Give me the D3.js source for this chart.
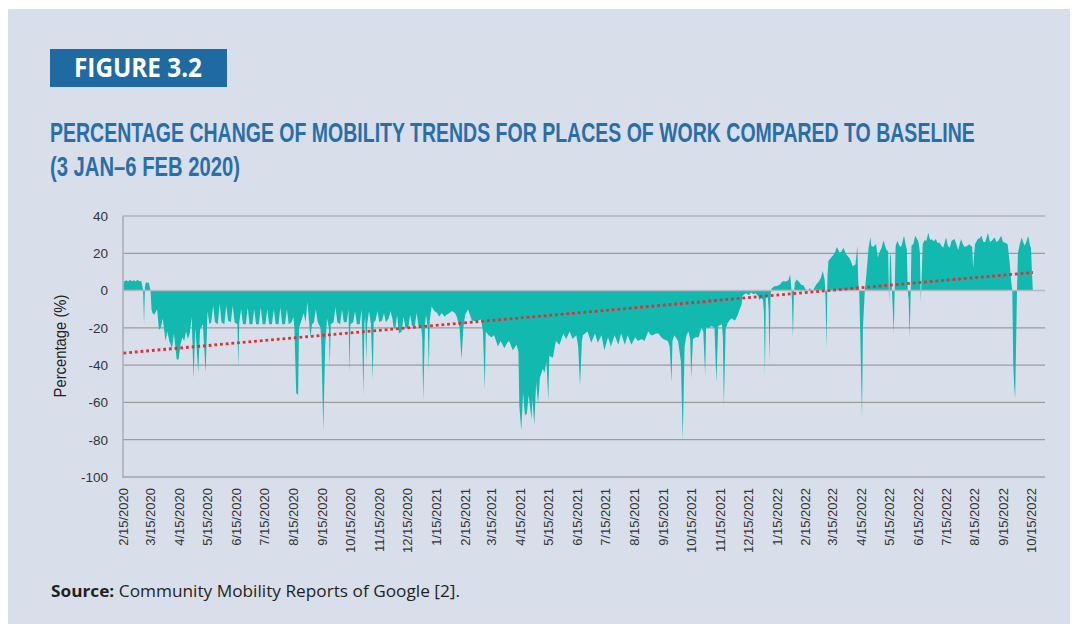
<!DOCTYPE html>
<html><head><meta charset="utf-8">
<script src="https://cdn.jsdelivr.net/npm/d3@7"></script>
<style>body{margin:0;background:#fff;} svg{display:block}</style>
</head><body>
<svg id="chart" width="1078" height="631"></svg>
<script>
// ---- data (days since 2/15/2020, % change vs baseline) ----
const startDate = "2/15/2020";
const axisEndDate = "10/29/2022";
const obs2020 = [
 [0,4],[1,5],[3,5.5],[5,4.8],[7,5.8],[9,5],[11,5.6],[13,4.8],[15,5.8],[17,5],
 [19,5.2],[20,3],[21,0],[22,-18],[23,2],[24,4.5],[26,4],[27,4.5],[28,2],[29,0],
 [30,-10],[31,-12],[33,-13],[36,-10],[38,-21],[40,-20],[42,-15],[45,-27],[47,-22],[49,-27],
 [52,-31],[54,-23],[57,-37],[59,-37],[61,-29],[63,-25],[65,-27],[67,-22],[69,-26],[71,-23],
 [73,-14],[75,-47],[77,-20],[80,-44],[82,-21],[85,-18],[88,-44],[90,-11],[92,-18],[94,-17],
 [96,-8],[98,-17],[101,-18],[103,-7],[105,-17],[108,-18],[110,-8],[112,-16],[115,-17],[117,-8],
 [119,-17],[122,-18],[123,-41],[124,-17],[126,-10],[128,-18],[131,-18],[133,-9],[135,-18],[138,-18],
 [140,-10],[142,-18],[145,-18],[147,-9],[149,-18],[152,-18],[154,-10],[156,-18],[159,-18],[161,-10],
 [163,-18],[166,-18],[168,-9],[170,-18],[173,-18],[175,-10],[177,-18],[180,-17],[182,-14],[183,-20],
 [185,-55],[187,-56],[188,-20],[190,-17],[193,-12],[195,-17],[197,-6],[199,-18],[200,-25],[202,-18],
 [204,-17],[206,-10],[208,-17],[211,-20],[212,-30],[214,-75],[216,-30],[218,-15],[220,-20],[221,-40],
 [222,-18],[225,-17],[227,-9],[229,-17],[232,-18],[234,-10],[236,-17],[239,-17],[241,-10],[242,-44],
 [243,-18],[246,-17],[248,-11],[250,-18],[253,-18],[255,-10],[257,-56],[258,-18],[259,-14],[260,-38],
 [261,-18],[263,-11],[265,-18],[267,-48],[268,-17],[270,-16],[272,-11],[274,-17],[277,-16],[279,-12],
 [281,-17],[284,-15],[286,-11],[288,-15],
 [289,-19],[291,-21],[293,-13],[295,-23],[298,-22],[300,-14],[302,-20],[305,-20],[307,-13],[309,-19],
 [312,-19],[314,-12],[316,-19],[319,-20],[320,-26]
];
const obs2021 = [
 [321,-59],[323,-18],[324,-13],[326,-20],[327,-44],[328,-16],[330,-8.5],[333,-11],[336,-12],[338,-14],
 [341,-12],[344,-14],[346,-13],[349,-12],[352,-11],[355,-12],[357,-14],[360,-20],[362,-37],[364,-20],
 [366,-13],[369,-10],[371,-13],[373,-16],[378,-16.5],[383,-15.5],[385,-22],[387,-53],[388,-22],[391,-24],
 [394,-25],[397,-24],[401,-30],[404,-27],[408,-31],[411,-28],[413,-27],[417,-32],[421,-29],[423,-33],
 [424,-62],[426,-75],[428,-55],[430,-67],[432,-66],[434,-56],[437,-69],[438,-58],[440,-72],[442,-49],
 [444,-61],[446,-47],[449,-42],[451,-44],[453,-38],[455,-59],[456,-35],[460,-36],[463,-27],[467,-29],
 [471,-23],[474,-26],[478,-22],[481,-26],[485,-24],[487,-30],[489,-51],[491,-27],[492,-24],[497,-22],
 [501,-28],[505,-23],[508,-28],[512,-24],[515,-32],[519,-25],[522,-30],[526,-24],[530,-29],[533,-23],
 [537,-29],[540,-24],[544,-29],[548,-25],[551,-27],[555,-26],[558,-27],[562,-22],[565,-24],[567,-24],
 [570,-23],[573,-23],[576,-25],[578,-26],[583,-27],[585,-30],[587,-49],[588,-27],[590,-24],[594,-27],
 [597,-38],[599,-80],[601,-30],[603,-24],[605,-22],[607,-26],[608,-47],[610,-26],[613,-25],[616,-25],
 [619,-20],[621,-22],[623,-45],[624,-20],[627,-20],[630,-19],[633,-20],[635,-49],[637,-19],[641,-18],
 [642,-25],[643,-62],[645,-20],[646,-19]
];
const obs2022 = [
 [647,-17.5],[649,-16],[651,-14.8],[653,-15.5],[655,-16],[658,-13],[660,-10],[662,-7.6],[663,-3],[665,-2],
 [667,-1.5],[670,-2.5],[672,-1],[675,-2],[677,-1.5],[680,-3],[681,-5],[683,-4],[685,-5],[686,-12],
 [687,-45],[688,-4],[690,-3],[691,-10],[692,-38],[693,-3],[694,1],[697,2.3],[700,2.5],[703,3.2],
 [706,5],[709,4.8],[712,5.4],[714,8.6],[715,3],[716,-5],[717,-25.6],[718,-3],[719,4],[721,6],
 [724,4.5],[726,3],[728,3],[731,0.5],[733,-0.5],[735,1.4],[737,0],[738,-0.7],[740,1.5],[742,3.2],
 [745,5],[747,7],[749,10.5],[751,6],[752,-5],[753,-31],[754,8],[755,15.9],[758,17.7],[760,19],
 [762,20.4],[764,23.4],[767,20.4],[769,21],[771,23],[774,19.5],[777,17.7],[779,16],[781,13],[784,14],
 [786,24],[787,4],[788,0],[789,-20],[791,-68],[792,-20],[794,0],[795,5],[796,10.5],[798,23],
 [800,28.5],[801,24],[803,23.4],[806,25],[808,17.7],[810,21],[812,23],[814,27],[817,22],[819,21],
 [820,-7.5],[821,20],[822,18],[823,0],[824,-10],[825,-23],[826,0],[827,24],[829,26.7],[831,24],
 [833,23.4],[836,29.4],[838,24],[839,22],[840,0],[841,-5],[842,-24.7],[843,-5],[844,24],[846,25],
 [848,29.4],[851,26.7],[852,24.9],[853,20],[854,-5.8],[855,10],[856,24.9],[858,27],[860,26.7],[862,31],
 [864,27],[865,27.6],[868,26.5],[870,27.6],[872,25.5],[874,25.8],[876,24],[878,23],[881,28.5],[883,24],
 [885,23],[887,26.7],[890,27.6],[892,25],[894,21.6],[897,27.6],[899,25],[901,23.4],[904,24],[906,24.9],
 [909,23.4],[910,12],[912,24.9],[915,27.6],[917,28],[919,29.4],[921,26],[923,26],[926,31],[928,26],
 [930,26.7],[933,28.5],[935,26],[937,26.7],[940,29.4],[942,26],[944,25.8],[947,24.9],[949,15.9],[951,4],
 [952,0],[953,-40],[954,-50.8],[955,-58],[956,-30],[957,0],[958,20],[960,25],[962,28.5],[965,24],
 [967,26],[969,29.4],[971,24],[972,23],[973,10],[974,0]
];
const trendDays = [0, 974];
const trendValues = [-33.5, 9.7];
const yTicks = [40, 20, 0, -20, -40, -60, -80, -100];
const xTickLabels = ["2/15/2020","3/15/2020","4/15/2020","5/15/2020","6/15/2020","7/15/2020","8/15/2020",
 "9/15/2020","10/15/2020","11/15/2020","12/15/2020","1/15/2021","2/15/2021","3/15/2021","4/15/2021",
 "5/15/2021","6/15/2021","7/15/2021","8/15/2021","9/15/2021","10/15/2021","11/15/2021","12/15/2021",
 "1/15/2022","2/15/2022","3/15/2022","4/15/2022","5/15/2022","6/15/2022","7/15/2022","8/15/2022",
 "9/15/2022","10/15/2022"];
const figureLabel = "FIGURE 3.2";
const titleLines = ["PERCENTAGE CHANGE OF MOBILITY TRENDS FOR PLACES OF WORK COMPARED TO BASELINE", "(3 JAN\u20136 FEB 2020)"];
const yAxisTitle = "Percentage (%)";

// ---- drawing ----
const narrow = "'Liberation Sans Narrow', 'Liberation Sans', sans-serif";
const svg = d3.select("#chart");
svg.append("rect").attr("x", 8).attr("y", 9).attr("width", 1062).attr("height", 615).attr("fill", "#d8dfeb");

svg.append("rect").attr("x", 50).attr("y", 49).attr("width", 177).attr("height", 38).attr("fill", "#1f6aa0");
svg.append("text").attr("x", 74).attr("y", 77).attr("fill", "#fff")
  .style("font-family", "'Open Sans', sans-serif").style("font-weight", 700).style("font-size", "26px")
  .attr("textLength", 128).attr("lengthAdjust", "spacingAndGlyphs").text(figureLabel);

// condensed title: measure natural width, then squeeze horizontally to the reference width
const titleSpec = [{y: 142, w: 925}, {y: 176, w: 190}];
titleLines.forEach((t, i) => {
  const g = svg.append("g");
  const tx = g.append("text").attr("x", 0).attr("y", 0).attr("fill", "#2a6ea7")
    .style("font-family", "'Liberation Sans', Arial, sans-serif").style("font-weight", 700).style("font-size", "27px")
    .text(t);
  const w = tx.node().getComputedTextLength();
  g.attr("transform", `translate(50,${titleSpec[i].y}) scale(${titleSpec[i].w / w},1)`);
});

const parse = d3.utcParse("%m/%d/%Y");
const start = parse(startDate);
const x = d3.scaleUtc().domain([start, parse(axisEndDate)]).range([123.5, 1045]);
const y = d3.scaleLinear().domain([-100, 40]).range([477, 216]);
const xl = 123, xr = 1045;

// gridlines
svg.append("g").selectAll("line").data(yTicks.filter(v => v !== 0 && v !== -100)).join("line")
  .attr("x1", xl).attr("x2", xr).attr("y1", d => y(d)).attr("y2", d => y(d))
  .attr("stroke", "#9b9b9b").attr("stroke-width", 1.2);

// area
const series = obs2020.concat(obs2021, obs2022).map(d => ({date: d3.utcDay.offset(start, d[0]), v: d[1]}));
const area = d3.area().x(d => x(d.date)).y0(y(0)).y1(d => y(d.v));
svg.append("path").datum(series).attr("d", area).attr("fill", "#12b9ae");

// zero line and bottom line, left axis
svg.append("line").attr("x1", xl).attr("x2", xr).attr("y1", y(0)).attr("y2", y(0))
  .attr("stroke", "#b4b9c2").attr("stroke-width", 1.6);
svg.append("line").attr("x1", xl).attr("x2", xr).attr("y1", y(-100)).attr("y2", y(-100))
  .attr("stroke", "#b0b4bc").attr("stroke-width", 2);
svg.append("line").attr("x1", xl).attr("x2", xl).attr("y1", y(40)).attr("y2", y(-100) + 1)
  .attr("stroke", "#a9adb5").attr("stroke-width", 1.5);

// trend line
const trend = trendDays.map((d, i) => ({date: d3.utcDay.offset(start, d), v: trendValues[i]}));
svg.append("path").datum(trend).attr("d", d3.line().x(d => x(d.date)).y(d => y(d.v)))
  .attr("fill", "none").attr("stroke", "#d8323a").attr("stroke-width", 2.8)
  .attr("stroke-dasharray", "2.8 2.9");

// y tick labels
svg.append("g").selectAll("text").data(yTicks).join("text")
  .attr("x", 108).attr("y", d => y(d)).attr("dy", "0.36em").attr("text-anchor", "end")
  .attr("fill", "#333").style("font-family", narrow).style("font-size", "13.5px").text(d => d);

// y axis title
svg.append("text").attr("transform", "translate(66,346) rotate(-90)").attr("text-anchor", "middle")
  .attr("fill", "#222").style("font-family", narrow).style("font-size", "17px")
  .attr("textLength", 103).attr("lengthAdjust", "spacingAndGlyphs").text(yAxisTitle);

// x tick labels
svg.append("g").selectAll("text").data(xTickLabels).join("text")
  .attr("transform", d => `translate(${x(parse(d)) + 4.5},488) rotate(-90)`)
  .attr("text-anchor", "end").attr("fill", "#333")
  .style("font-family", narrow).style("font-size", "13px").text(d => d);

// source
const src = svg.append("text").attr("x", 51).attr("y", 597).attr("fill", "#231f20")
  .style("font-family", "'Open Sans', sans-serif").style("font-size", "16px")
  .attr("textLength", 409).attr("lengthAdjust", "spacingAndGlyphs");
src.append("tspan").style("font-weight", 700).text("Source:");
src.append("tspan").text(" Community Mobility Reports of Google [2].");
</script>
</body></html>
